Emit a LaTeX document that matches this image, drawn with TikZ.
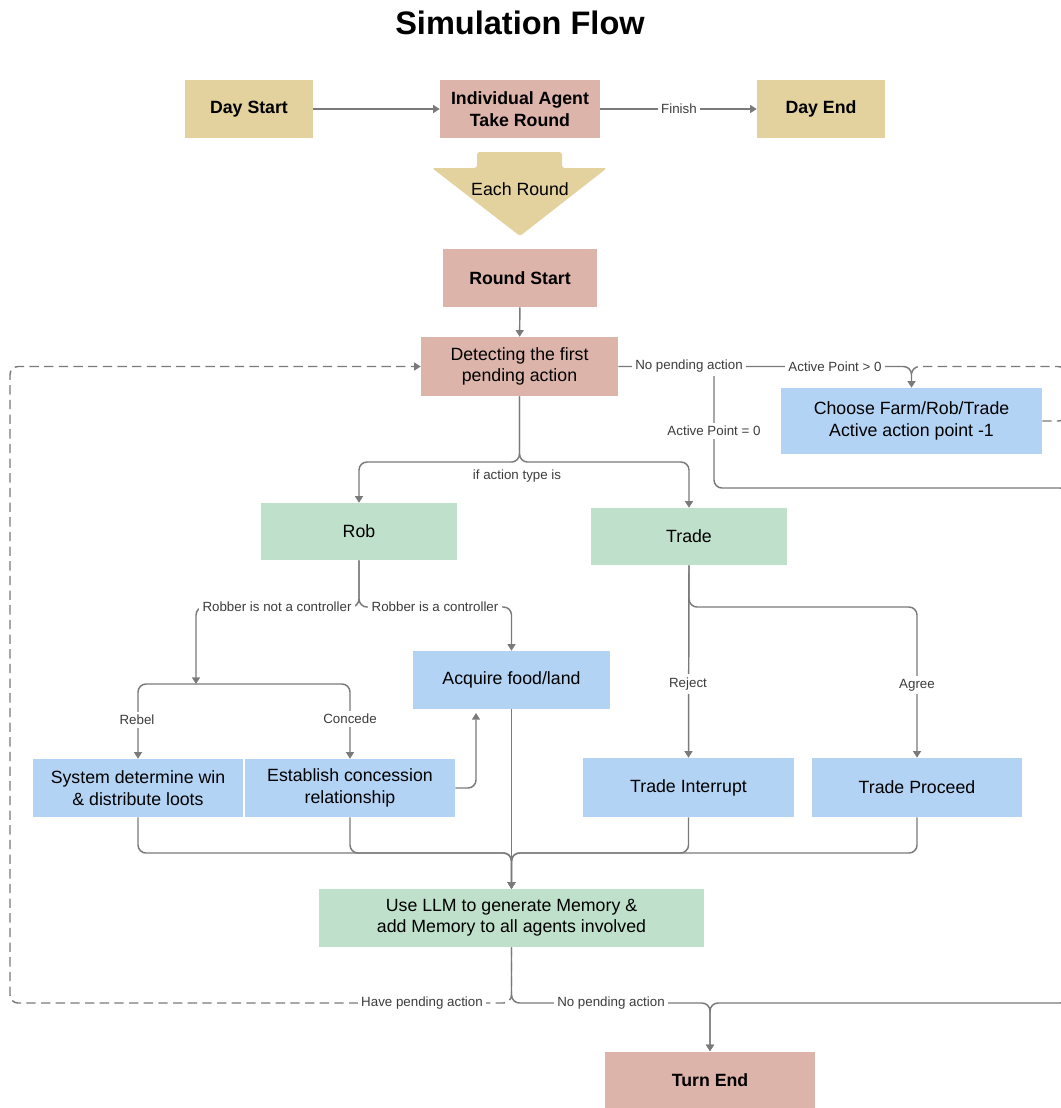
\documentclass[tikz,border=0pt]{standalone}
\usepackage{fontspec}
\setmainfont{Liberation Sans}
\usetikzlibrary{arrows.meta}

\definecolor{tanbox}{RGB}{227,209,158}
\definecolor{pinkbox}{RGB}{221,180,170}
\definecolor{greenbox}{RGB}{191,225,203}
\definecolor{bluebox}{RGB}{179,211,245}
\definecolor{linegray}{RGB}{122,122,122}
\definecolor{labelgray}{RGB}{60,60,60}

\tikzset{
  box/.style={inner sep=2pt, align=center, font=\fontsize{13.3}{16}\selectfont},
  daybox/.style={box, fill=tanbox, minimum width=96pt, minimum height=43.5pt},
  flow/.style={draw=linegray, line width=1.1pt, rounded corners=6pt, -{Triangle[length=5pt,width=6pt]}},
  plain/.style={draw=linegray, line width=1.1pt, rounded corners=6pt},
  loopline/.style={plain, dash pattern=on 7pt off 4pt},
  lbl/.style={fill=white, inner sep=2.5pt, text=labelgray, font=\fontsize{10}{12}\selectfont},
}

\begin{document}
\begin{tikzpicture}[x=0.75pt,y=0.75pt,yscale=-1,xscale=1]
\useasboundingbox (0,0) rectangle (1061,1108);

% Title
\node[font=\fontsize{24.4}{28}\selectfont\bfseries] (title) at (520,23) {Simulation Flow};

%Shape: Each Round arrow
\draw[fill=tanbox, draw=none, rounded corners=2pt] (477,152) -- (562,152) -- (562,168) -- (607,168) -- (520,236) -- (432,168) -- (477,168) -- cycle;
\node[box] (eachround) at (520,189) {Each Round};

% Boxes
\node[daybox] (daystart) at (249,109) {\textbf{Day Start}};
\node[box, fill=pinkbox, minimum width=120pt, minimum height=43.5pt] (agent) at (520,109) {\textbf{Individual Agent}\\\textbf{Take Round}};
\node[daybox] (dayend) at (821,109) {\textbf{Day End}};
\node[box, fill=pinkbox, minimum width=115.5pt, minimum height=43.5pt] (roundstart) at (520,278) {\textbf{Round Start}};
\node[box, fill=pinkbox, minimum width=147.75pt, minimum height=44.25pt] (detect) at (519.5,366.5) {Detecting the first\\pending action};
\node[box, fill=bluebox, minimum width=195.75pt, minimum height=49.5pt] (choose) at (911.5,421) {Choose Farm/Rob/Trade\\Active action point -1};
\node[box, fill=greenbox, minimum width=147pt, minimum height=42.75pt] (rob) at (359,531.5) {Rob};
\node[box, fill=greenbox, minimum width=147pt, minimum height=42.75pt] (trade) at (689,536.5) {Trade};
\node[box, fill=bluebox, minimum width=147.75pt, minimum height=43.5pt] (acquire) at (511.5,680) {Acquire food/land};
\node[box, fill=bluebox, minimum width=157.5pt, minimum height=43.5pt] (system) at (138,788) {System determine win\\\& distribute loots};
\node[box, fill=bluebox, minimum width=157.5pt, minimum height=43.5pt] (concession) at (350,788) {Establish concession\\relationship};
\node[box, fill=bluebox, minimum width=158.25pt, minimum height=44.25pt] (interrupt) at (688.5,787.5) {Trade Interrupt};
\node[box, fill=bluebox, minimum width=157.5pt, minimum height=44.25pt] (proceed) at (917,787.5) {Trade Proceed};
\node[box, fill=greenbox, minimum width=288.75pt, minimum height=43.5pt] (memory) at (511.5,918) {Use LLM to generate Memory \&\\add Memory to all agents involved};
\node[box, fill=pinkbox, minimum width=157.5pt, minimum height=42.75pt] (turnend) at (710,1080) {\textbf{Turn End}};

% Joints
\coordinate (apz) at (714,366.5);
\coordinate (dj) at (519.5,462);
\coordinate (rj) at (359,607);
\coordinate (split) at (196,684);
\coordinate (tj) at (689,607);
\coordinate (acqin) at (476,713);
\coordinate (merge) at (511.5,853);
\coordinate (mj) at (511.5,1003);

% Top row
\draw[flow] (daystart) -- (agent);
\draw[flow] (agent) -- (dayend);
\draw[flow] (roundstart) -- (detect);

% No pending action
\draw[loopline] (choose.east) -- ++(24,0) -- ++(0,-54.5) -- (choose.north |- detect.east) -- ++(0,12);
\draw[flow] (detect.east) -- (choose.north |- detect.east) -- (choose.north);
\draw[flow] (apz) -- (714,488) -- (1068,488) -- (1068,1003) -| (turnend.north);

% Action type
\draw[flow] (detect.south) -- (dj) -| (rob.north);
\draw[flow] (detect.south) -- (dj) -| (trade.north);

% Rob
\draw[flow] (rob.south) -- (rj) -| (split);
\draw[flow] (rob.south) -- (rj) -| (acquire.north);
\draw[flow] (split) -| (system.north);
\draw[flow] (split) -| (concession.north);
\draw[flow] (concession.east) -| (acqin);

% Trade
\draw[flow] (trade.south) -- (interrupt.north);
\draw[flow] (trade.south) -- (tj) -| (proceed.north);

% Memory
\draw[flow] (system.south) |- (merge) -- (memory.north);
\draw[flow] (concession.south) |- (merge) -- (memory.north);
\draw[flow] (interrupt.south) |- (merge) -- (memory.north);
\draw[flow] (proceed.south) |- (merge) -- (memory.north);
\draw[flow] (acquire.south) -- (memory.north);

% Back to detecting / turn end
\draw[loopline, -{Triangle[length=5pt,width=6pt]}] (memory.south) -- (mj) -- (10,1003) |- (detect.west);
\draw[flow] (memory.south) -- (mj) -| (turnend.north);

% Text Node
\node[lbl] (lfinish) at (679,109) {Finish};
\node[lbl] (lnopend) at (689,366.5) {No pending action};
\node[lbl] (lapgt) at (835,366.5) {Active Point > 0};
\node[lbl] (lapeq) at (714,431) {Active Point = 0};
\node[lbl, fill=none] (ltype) at (517,476) {if action type is};
\node[lbl] (lnotctrl) at (277,607) {Robber is not a controller};
\node[lbl] (lctrl) at (435,607) {Robber is a controller};
\node[lbl] (lrebel) at (137,720) {Rebel};
\node[lbl] (lconcede) at (350,719) {Concede};
\node[lbl] (lreject) at (688,684) {Reject};
\node[lbl] (lagree) at (917,685) {Agree};
\node[lbl] (lhave) at (422,1003) {Have pending action};
\node[lbl] (lnone) at (611,1003) {No pending action};

\end{tikzpicture}
\end{document}
